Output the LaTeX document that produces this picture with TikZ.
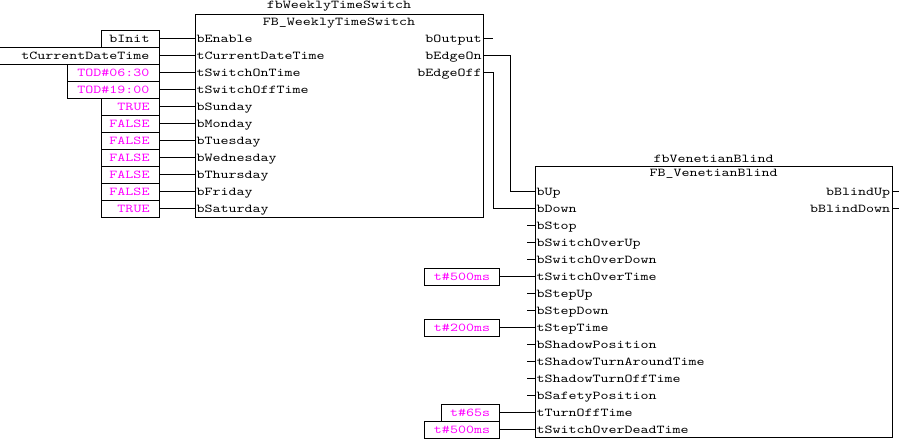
\documentclass[tikz,border=0pt]{standalone}
\usepackage{fontspec}
\setmonofont{lmmono10-regular.otf}[FakeStretch=1.27]
\definecolor{constmag}{RGB}{255,0,255}
\begin{document}
\begin{tikzpicture}[x=1pt,y=-1pt,line width=1pt,
  every node/.style={font=\fontsize{12}{13}\selectfont\ttfamily},
  fbbox/.style={draw,inner sep=0pt,anchor=north west},
  pinin/.style={anchor=west,inner sep=0pt,text height=9pt,text depth=2pt},
  pinout/.style={anchor=east,inner sep=0pt,text height=9pt,text depth=2pt},
  valbox/.style={draw,inner sep=0pt,minimum height=17pt,anchor=east},
  valtext/.style={anchor=east,inner sep=0pt,text height=9pt,text depth=2pt},
  wire/.style={line width=1pt}]
\useasboundingbox (0,0) rectangle (902,439);

% ---------- FB_WeeklyTimeSwitch ----------
\node[fbbox,minimum width=288pt,minimum height=203.5pt] (wts) at (195,13.5) {};
\node[anchor=base,inner sep=0pt] (wtsinst) at (339,8.6) {fbWeeklyTimeSwitch};
\node[anchor=base,inner sep=0pt] (wtstype) at (339,25.2) {FB\_WeeklyTimeSwitch};

\foreach \n/\lab in {0/bEnable,1/tCurrentDateTime,2/tSwitchOnTime,3/tSwitchOffTime,
  4/bSunday,5/bMonday,6/bTuesday,7/bWednesday,8/bThursday,9/bFriday,10/bSaturday}{
  \coordinate (a\n) at (195,{38.5+17*\n});
  \node[pinin] (al\n) at (196,{38.5+17*\n}) {\lab};
}
\foreach \n/\lx/\t/\c in {0/102/bInit/black,1/0/tCurrentDateTime/black,
  2/68/TOD\#06:30/constmag,3/68/TOD\#19:00/constmag,4/102/TRUE/constmag,
  5/102/FALSE/constmag,6/102/FALSE/constmag,7/102/FALSE/constmag,
  8/102/FALSE/constmag,9/102/FALSE/constmag,10/102/TRUE/constmag}{
  \node[valbox,minimum width={(160-\lx)*1pt}] (v\n) at (160,{38.5+17*\n}) {};
  \node[valtext,text=\c] (vt\n) at (150,{38.5+17*\n}) {\t};
  \draw[wire] (v\n.east) -- (a\n);
}
\foreach \n/\lab in {0/bOutput,1/bEdgeOn,2/bEdgeOff}{
  \coordinate (o\n) at (483,{38.5+17*\n});
  \node[pinout] (ol\n) at (482,{38.5+17*\n}) {\lab};
}
\coordinate (o0end) at (493,38.5);
\draw[wire] (o0) -- (o0end);

% ---------- FB_VenetianBlind ----------
\node[fbbox,minimum width=357pt,minimum height=271pt] (vb) at (535,166) {};
\node[anchor=base,inner sep=0pt] (vbinst) at (713.5,162.4) {fbVenetianBlind};
\node[anchor=base,inner sep=0pt] (vbtype) at (713.5,176.2) {FB\_VenetianBlind};

\foreach \n/\lab in {0/bUp,1/bDown,2/bStop,3/bSwitchOverUp,4/bSwitchOverDown,
  5/tSwitchOverTime,6/bStepUp,7/bStepDown,8/tStepTime,9/bShadowPosition,
  10/tShadowTurnAroundTime,11/tShadowTurnOffTime,12/bSafetyPosition,
  13/tTurnOffTime,14/tSwitchOverDeadTime}{
  \coordinate (b\n) at (535,{191.5+17*\n});
  \node[pinin] (bl\n) at (536,{191.5+17*\n}) {\lab};
}
\foreach \n in {2,3,4,6,7,9,10,11,12}{
  \coordinate (bs\n) at (527,{191.5+17*\n});
  \draw[wire] (bs\n) -- (b\n);
}
\foreach \n/\lx/\t in {5/425/t\#500ms,8/425/t\#200ms,13/442/t\#65s,14/425/t\#500ms}{
  \node[valbox,minimum width={(500-\lx)*1pt}] (w\n) at (500,{191.5+17*\n}) {};
  \node[valtext,text=constmag] (wt\n) at (490.5,{191.5+17*\n}) {\t};
  \draw[wire] (w\n.east) -- (b\n);
}
\foreach \n/\lab in {0/bBlindUp,1/bBlindDown}{
  \coordinate (p\n) at (892,{191.5+17*\n});
  \coordinate (p\n end) at (899,{191.5+17*\n});
  \node[pinout] (pl\n) at (890.5,{191.5+17*\n}) {\lab};
  \draw[wire] (p\n) -- (p\n end);
}

% ---------- connections ----------
\draw[wire] (o1) -| (510,191.5) -- (b0);
\draw[wire] (o2) -| (493,208.5) -- (b1);
\end{tikzpicture}
\end{document}
